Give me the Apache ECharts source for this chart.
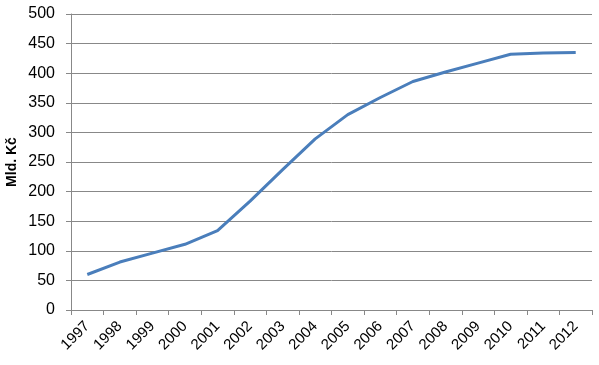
<!DOCTYPE html>
<html><head><meta charset="utf-8">
<script src="https://cdn.jsdelivr.net/npm/echarts@6/dist/echarts.min.js"></script>
<style>html,body{margin:0;padding:0;background:#fff}#c{width:599px;height:365px}</style>
</head><body><div id="c"></div>
<script>
var years = ['1997','1998','1999','2000','2001','2002','2003','2004','2005','2006','2007','2008','2009','2010','2011','2012'];
var values = [60, 81, 96, 111, 134, 184, 237, 289, 330, 359, 386, 402, 417, 432, 434, 435];
var yTitle = 'Mld. Kč';
var chart = echarts.init(document.getElementById('c'));
chart.setOption({
  animation: false,
  grid: {left: 71, right: 7, top: 14, bottom: 55, containLabel: false, outerBoundsMode: 'none'},
  xAxis: {
    type: 'category', data: years, boundaryGap: true,
    axisLine: {lineStyle: {color: '#888', width: 1}},
    axisTick: {show: true, length: 5, alignWithLabel: false, lineStyle: {color: '#888'}},
    axisLabel: {rotate: 45, color: '#000', fontSize: 15, fontFamily: 'Liberation Sans', margin: 14}
  },
  yAxis: {
    type: 'value', min: 0, max: 500, interval: 50,
    name: yTitle, nameLocation: 'middle', nameGap: 52, nameMoveOverlap: false,
    nameTextStyle: {fontWeight: 'bold', fontSize: 14, color: '#000', fontFamily: 'Liberation Sans'},
    axisLine: {show: true, lineStyle: {color: '#888'}},
    axisTick: {show: true, length: 5, lineStyle: {color: '#888'}},
    axisLabel: {color: '#000', fontSize: 16, fontFamily: 'Liberation Sans', margin: 16},
    splitLine: {lineStyle: {color: '#888', width: 1}}
  },
  series: [{
    type: 'line', data: values, symbol: 'none',
    lineStyle: {color: '#4A7EBB', width: 3}
  }]
});
</script></body></html>
